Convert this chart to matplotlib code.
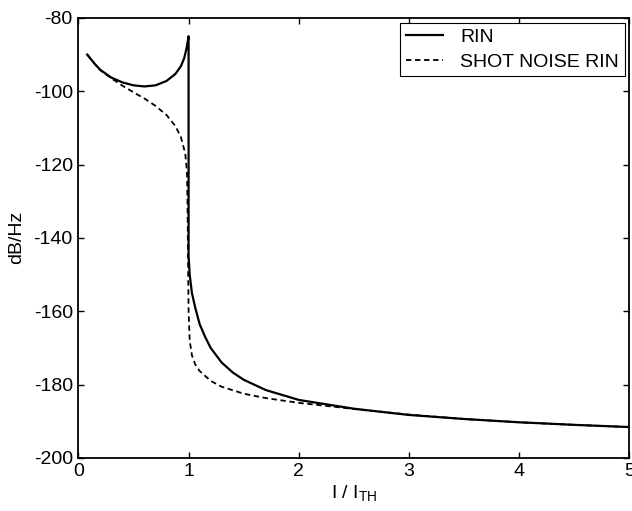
import matplotlib.pyplot as plt

plt.rcParams['font.family'] = ['Liberation Sans', 'DejaVu Sans']
plt.rcParams['mathtext.default'] = 'regular'
plt.rcParams['axes.unicode_minus'] = False

# ---------- data ----------
rin_x = [0.08, 0.15, 0.2, 0.3, 0.4, 0.5, 0.6, 0.7, 0.8, 0.88, 0.93, 0.96, 0.98,
         0.995, 1.0, 1.0, 1.01, 1.03, 1.06, 1.1, 1.15, 1.2, 1.3, 1.4, 1.5, 1.7,
         2.0, 2.5, 3.0, 3.5, 4.0, 4.5, 5.0]
rin_y = [-90, -92.6, -94.2, -96.3, -97.6, -98.4, -98.7, -98.4, -97.2, -95.3,
         -93.2, -91.0, -88.5, -86.0, -85.0, -145, -150, -155, -159, -163.5,
         -167, -170, -174, -176.7, -178.7, -181.5, -184.2, -186.6, -188.3,
         -189.4, -190.3, -191.0, -191.6]

shot_x = [0.08, 0.15, 0.2, 0.3, 0.4, 0.5, 0.6, 0.7, 0.8, 0.88, 0.93, 0.97,
          0.985, 0.99, 0.995, 1.0, 1.01, 1.03, 1.06, 1.1, 1.2, 1.3, 1.5, 1.7,
          2.0, 2.3, 2.6, 3.0, 3.5, 4.0, 4.5, 5.0]
shot_y = [-90, -92.6, -94.3, -96.5, -98.5, -100.3, -102, -104, -106.5, -109.5,
          -112.5, -117, -122, -130, -145, -160, -168, -172, -174.5, -176.3,
          -179, -180.6, -182.5, -183.7, -185, -186, -187, -188.2, -189.4,
          -190.3, -191.0, -191.6]

x_ticks = [0, 1, 2, 3, 4, 5]
y_ticks = [-200, -180, -160, -140, -120, -100, -80]

# ---------- figure ----------
fig = plt.figure(figsize=(6.32, 5.11), dpi=100)
ax = fig.add_axes([0.124, 0.104, 0.872, 0.861])

ax.plot(rin_x, rin_y, color='black', lw=1.6, label='RIN')
ax.plot(shot_x, shot_y, color='black', lw=1.3, linestyle=(0, (3, 2)),
        label='SHOT NOISE RIN')

ax.set_xlim(0, 5)
ax.set_ylim(-200, -80)
ax.set_xticks(x_ticks)
ax.set_yticks(y_ticks)
ax.tick_params(direction='in', length=4, width=1, top=True, right=True,
               labelsize=14, pad=4)
for s in ax.spines.values():
    s.set_linewidth(1.3)

ax.set_xlabel('I / I$_{TH}$', fontsize=14, labelpad=2)
ax.set_ylabel('dB/Hz', fontsize=14, labelpad=6)

leg = ax.legend(loc='upper right', fontsize=14, frameon=True, fancybox=False,
                framealpha=1, edgecolor='black', handlelength=1.9,
                borderpad=0.3, labelspacing=0.35, handletextpad=0.9,
                borderaxespad=0.25)
leg.get_frame().set_linewidth(0.8)

plt.savefig('out.png', dpi=100)
plt.close()
